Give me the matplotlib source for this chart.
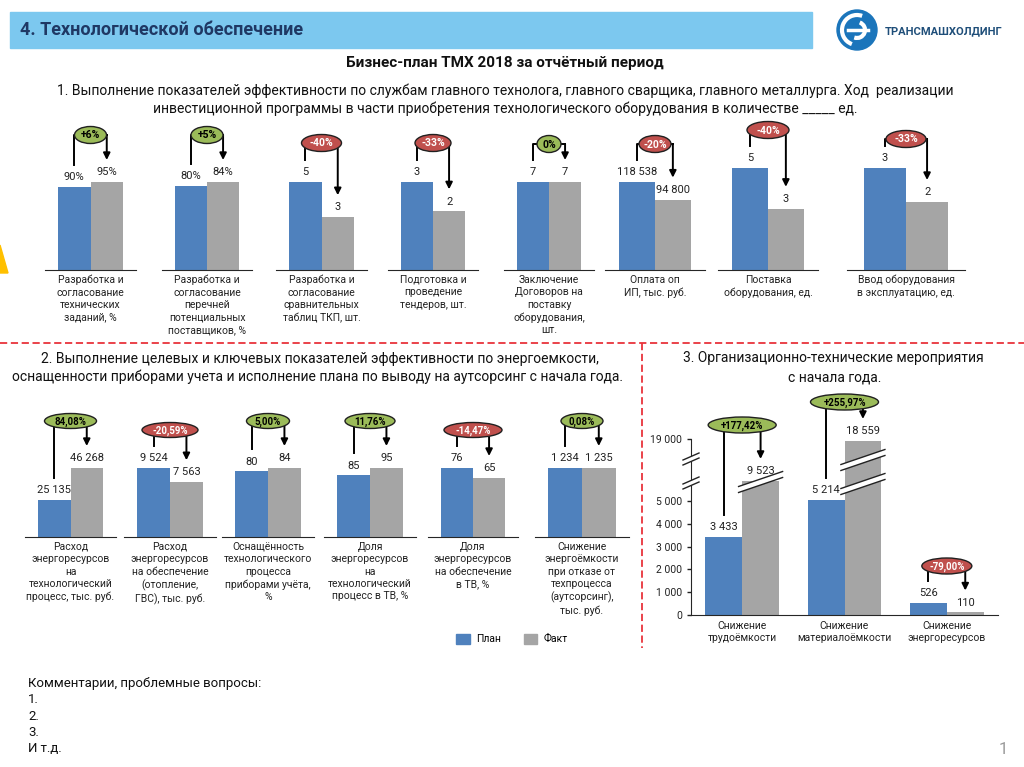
import matplotlib.pyplot as plt
import numpy as np
from matplotlib.patches import Rectangle, Ellipse, Polygon, Circle, Arc, Patch

plt.rcParams['font.family'] = ['Roboto', 'DejaVu Sans']

W, H = 1024, 767

# --- Раздел 1: показатели служб ---
cats1 = ['Разработка и\nсогласование\nтехнических\nзаданий, %',
         'Разработка и\nсогласование\nперечней\nпотенциальных\nпоставщиков, %',
         'Разработка и\nсогласование\nсравнительных\nтаблиц ТКП, шт.',
         'Подготовка и\nпроведение\nтендеров, шт.',
         'Заключение\nДоговоров на\nпоставку\nоборудования,\nшт.',
         'Оплата оп\nИП, тыс. руб.',
         'Поставка\nоборудования, ед.',
         'Ввод оборудования\nв эксплуатацию, ед.']
plan1 = [90, 80, 5, 3, 7, 118538, 5, 3]
fact1 = [95, 84, 3, 2, 7, 94800, 3, 2]
units1 = ['%', '%', '', '', '', '', '', '']
delta1 = ['+6%', '+5%', '-40%', '-33%', '0%', '-20%', '-40%', '-33%']

# --- Раздел 2: энергоемкость ---
cats2 = ['Расход\nэнергоресурсов\nна\nтехнологический\nпроцесс, тыс. руб.',
         'Расход\nэнергоресурсов\nна обеспечение\n(отопление,\nГВС), тыс. руб.',
         'Оснащённость\nтехнологического\nпроцесса\nприборами учёта,\n%',
         'Доля\nэнергоресурсов\nна\nтехнологический\nпроцесс в ТВ, %',
         'Доля\nэнергоресурсов\nна обеспечение\nв ТВ, %',
         'Снижение\nэнергоёмкости\nпри отказе от\nтехпроцесса\n(аутсорсинг),\nтыс. руб.']
plan2 = [25135, 9524, 80, 85, 76, 1234]
fact2 = [46268, 7563, 84, 95, 65, 1235]
delta2 = ['84,08%', '-20,59%', '5,00%', '11,76%', '-14,47%', '0,08%']

# --- Раздел 3: орг.-тех. мероприятия ---
cats3 = ['Снижение\nтрудоёмкости', 'Снижение\nматериалоёмкости', 'Снижение\nэнергоресурсов']
plan3 = [3433, 5214, 526]
fact3 = [9523, 18559, 110]
delta3 = ['+177,42%', '+255,97%', '-79,00%']
ticks3 = [0, 1000, 2000, 3000, 4000, 5000, 19000]

BLUE = '#4F81BD'
GREY = '#A5A5A5'
GREEN = '#9BBB59'
RED = '#C0504D'
DASH = '#E8343B'

# раскладка (пиксели)
box1 = [(45, 136), (162, 252), (276, 367), (388, 478), (504, 594), (605, 705), (718, 818), (847, 965)]
top1 = [182, 182, 182, 182, 182, 182, 168, 168]
bub_y1 = [135, 135, 143, 143, 144, 144, 130, 139]
bub_w1 = [32, 32, 40, 36, 24, 32, 42, 40]
box2 = [(25, 116), (124, 216), (222, 314), (324, 416), (428, 518), (535, 629)]
bub_y2 = [421, 430, 421, 421, 430, 421]
bub_w2 = [52, 56, 43, 50, 58, 42]
bub_y3 = [425, 402, 566]
bub_w3 = [68, 68, 50]


def fmt(v, unit=''):
    return f'{v:,}'.replace(',', ' ') + unit


def box(x0, y0, x1, y1):
    return [x0 / W, 1 - y1 / H, (x1 - x0) / W, (y1 - y0) / H]


fig = plt.figure(figsize=(W / 100, H / 100), dpi=100)
cv = fig.add_axes([0, 0, 1, 1], zorder=10)
cv.set_xlim(0, W)
cv.set_ylim(H, 0)
cv.axis('off')


def to_px(ax, x, y):
    X, Y = ax.transData.transform((x, y))
    return X, H - Y


def bubble(ax, xa, va, xb, vb, by, w, h, txt, fs=7):
    # стрелка от плана к факту с овалом отклонения
    x0, y0 = to_px(ax, xa, va)
    x1, y1 = to_px(ax, xb, vb)
    y0 -= 22
    y1 -= 22
    cv.plot([x0, x0, x1], [y0, by, by], color='k', lw=1.4)
    cv.annotate('', xy=(x1, y1), xytext=(x1, by),
                arrowprops=dict(arrowstyle='-|>', color='k', lw=1.4, mutation_scale=10,
                                shrinkA=0, shrinkB=0))
    good = not txt.startswith('-')
    cv.add_patch(Ellipse(((x0 + x1) / 2, by), w, h, fc=GREEN if good else RED,
                         ec='#202020', lw=1, zorder=5))
    cv.text((x0 + x1) / 2, by + 0.5, txt, ha='center', va='center', fontsize=fs,
            fontweight='bold', color='k' if good else 'w', zorder=6)


def pair(x0, x1, ytop, ybase, p, f, unit, cat):
    ax = fig.add_axes(box(x0, ytop, x1, ybase))
    ax.bar([0, 1], [p, f], width=1, color=[BLUE, GREY])
    ax.set_xlim(-0.9, 1.9)
    ax.set_ylim(0, max(p, f))
    for s in ['top', 'right', 'left']:
        ax.spines[s].set_visible(False)
    ax.spines['bottom'].set_color('#262626')
    ax.set_xticks([])
    ax.set_yticks([])
    ax.patch.set_alpha(0)
    for x, v in [(0, p), (1, f)]:
        ax.annotate(fmt(v, unit), (x, v), xytext=(0, 7), textcoords='offset points',
                    ha='center', va='center', fontsize=8, color='#222222',
                    annotation_clip=False)
    ax.annotate(cat, (0.5, 0), xycoords='axes fraction', xytext=(0, -3.5),
                textcoords='offset points', ha='center', va='top', fontsize=7.5,
                linespacing=1.3, color='#222222', multialignment='center')
    return ax


# шапка
cv.add_patch(Rectangle((10, 12), 802, 36, color='#7CC8EF'))
cv.text(20, 30, '4. Технологической обеспечение', fontsize=13, fontweight='bold',
        color='#1F3864', va='center')
cv.add_patch(Circle((857, 30), 20, color='#1B75BB'))
cv.add_patch(Arc((857, 30), 30, 30, theta1=110, theta2=290, color='w', lw=3))
cv.add_patch(Arc((857, 30), 16, 16, theta1=290, theta2=470, color='w', lw=3))
cv.plot([848, 868], [30, 30], color='w', lw=2.5)
cv.text(885, 31, 'ТРАНСМАШХОЛДИНГ', fontsize=8, fontweight='bold', color='#1F4E79', va='center')

cv.text(505, 63, 'Бизнес-план ТМХ 2018 за отчётный период', fontsize=11, fontweight='bold',
        ha='center', va='center', color='#111111')
cv.text(505, 91, '1. Выполнение показателей эффективности по службам главного технолога, '
        'главного сварщика, главного металлурга. Ход  реализации', fontsize=10,
        ha='center', va='center', color='#111111')
cv.text(505, 109, 'инвестиционной программы в части приобретения технологического '
        'оборудования в количестве _____ ед.', fontsize=10, ha='center', va='center',
        color='#111111')
cv.add_patch(Polygon([(0, 245), (8, 273), (0, 273)], color='#FFC000'))

# раздел 1
for i in range(8):
    x0, x1 = box1[i]
    ax = pair(x0, x1, top1[i], 270, plan1[i], fact1[i], units1[i], cats1[i])
    bubble(ax, 0, plan1[i], 1, fact1[i], bub_y1[i], bub_w1[i], 17, delta1[i], fs=7.5)

# разделители
cv.plot([0, W], [343, 343], color=DASH, lw=1.3, ls=(0, (4, 2)))
cv.plot([642, 642], [343, 648], color=DASH, lw=1.3, ls=(0, (4, 2)))

# раздел 2
cv.text(320, 359, '2. Выполнение целевых и ключевых показателей эффективности по энергоемкости,',
        fontsize=10, ha='center', va='center', color='#111111')
cv.text(318, 377, 'оснащенности приборами учета и исполнение плана по выводу на аутсорсинг с начала года.',
        fontsize=10, ha='center', va='center', color='#111111')
for i in range(6):
    x0, x1 = box2[i]
    ax = pair(x0, x1, 468, 537, plan2[i], fact2[i], '', cats2[i])
    bubble(ax, 0, plan2[i], 1, fact2[i], bub_y2[i], bub_w2[i], 15, delta2[i])

cv.legend([Patch(color=BLUE), Patch(color=GREY)], ['План', 'Факт'], loc='center',
          bbox_to_anchor=(512, 639), bbox_transform=cv.transData, ncol=2, frameon=False,
          fontsize=7.5, handlelength=1.3, handleheight=1.1, columnspacing=2.2, handletextpad=0.6)

# раздел 3
cv.text(833, 358, '3. Организационно-технические мероприятия', fontsize=10,
        ha='center', va='center', color='#111111')
cv.text(835, 378, 'с начала года.', fontsize=10, ha='center', va='center', color='#111111')

K = 0.194


def fwd(v):
    v = np.asarray(v, dtype=float)
    return np.where(v <= 5000, v, 5000 + (v - 5000) * K)


def inv(u):
    u = np.asarray(u, dtype=float)
    return np.where(u <= 5000, u, 5000 + (u - 5000) / K)


ax3 = fig.add_axes(box(691, 439, 998, 615))
ax3.set_yscale('function', functions=(fwd, inv))
x = np.arange(3)
ax3.bar(x - 0.18, plan3, 0.36, color=BLUE)
ax3.bar(x + 0.18, fact3, 0.36, color=GREY)
ax3.set_xlim(-0.5, 2.5)
ax3.set_ylim(0, 19000)
ax3.set_yticks(ticks3)
ax3.set_yticklabels([fmt(t) for t in ticks3])
ax3.set_xticks(x)
ax3.set_xticklabels(cats3)
ax3.tick_params(axis='y', labelsize=7.5, length=3, width=1, colors='#222222')
ax3.tick_params(axis='x', labelsize=7.5, length=0, pad=4, colors='#222222')
for lab in ax3.get_xticklabels():
    lab.set_linespacing(1.3)
ax3.spines['top'].set_visible(False)
ax3.spines['right'].set_visible(False)
ax3.spines['left'].set_color('#262626')
ax3.spines['bottom'].set_color('#262626')
ax3.patch.set_alpha(0)
for xs, vals in [(x - 0.18, plan3), (x + 0.18, fact3)]:
    for xi, v in zip(xs, vals):
        ax3.annotate(fmt(v), (xi, v), xytext=(0, 7), textcoords='offset points',
                     ha='center', va='center', fontsize=8, color='#222222')
for i in range(3):
    bubble(ax3, i - 0.18, plan3[i], i + 0.18, fact3[i], bub_y3[i], bub_w3[i], 16, delta3[i])


def brk(xc, yc, hw, rise, gap):
    # разрыв шкалы: две наклонные линии с белой полосой
    a = (xc - hw, yc + rise / 2)
    b = (xc + hw, yc - rise / 2)
    cv.add_patch(Polygon([(a[0], a[1] + gap / 2), (b[0], b[1] + gap / 2),
                          (b[0], b[1] - gap / 2), (a[0], a[1] - gap / 2)],
                         fc='white', ec='none', zorder=3))
    for s in (gap / 2, -gap / 2):
        cv.plot([a[0], b[0]], [a[1] + s, b[1] + s], color='#222222', lw=1, zorder=4)


brk(691, 459, 8, 7, 5)
brk(691, 483, 8, 7, 5)
gx0 = to_px(ax3, 0.18, 0)[0]
gx1 = to_px(ax3, 1.18, 0)[0]
brk(gx0, 482, 22, 15, 6)
brk(gx1, 460, 22, 15, 6)
brk(gx1, 484, 22, 15, 6)

# комментарии
for j, t in enumerate(['Комментарии, проблемные вопросы:', '1.', '2.', '3.', 'И т.д.']):
    cv.text(28, 683 + j * 16.5, t, fontsize=9.5, va='center', color='#111111')
cv.text(1003, 749, '1', fontsize=12, color='#9A9A9A', ha='center', va='center')

fig.savefig('out.png', dpi=100)
